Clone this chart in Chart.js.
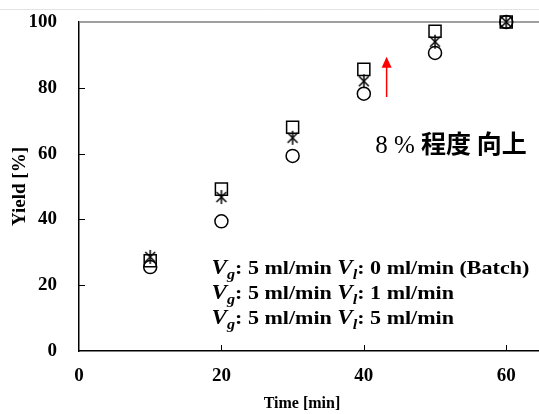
<!DOCTYPE html>
<html>
<head>
<meta charset="utf-8">
<script src="https://cdn.jsdelivr.net/npm/chart.js@4.4.0/dist/chart.umd.min.js"></script>
<style>
  html, body { margin: 0; padding: 0; background: #fff; }
</style>
</head>
<body>
<canvas id="grafico" width="539" height="414"></canvas>
<script>
// dados
const tempos = [10, 20, 30, 40, 50, 60];
const rendBatch = [25.5, 39.4, 59.3, 78.2, 90.6, 100];
const rend1ml = [28.6, 46.8, 64.8, 82.0, 94.0, 100];
const rend5ml = [27.4, 49.2, 68.0, 85.6, 97.2, 100];
const ticksX = [0, 20, 40, 60];
const ticksY = [0, 20, 40, 60, 80, 100];

// seta vermelha e textos (em unidades do grafico)
const seta = [[43.2, 77.2], [43.2, 89.4]];
const textoMelhora = ["8 % ", "程度 向上"];
const posMelhora = [41.6, 60.2];
const posLegenda = [18.6, 23.3];
const legenda = [
  [["V", "i"], ["g", "s"], [": 5 ml/min ", ""], ["V", "i"], ["l", "s"], [": 0 ml/min (Batch)", ""]],
  [["V", "i"], ["g", "s"], [": 5 ml/min ", ""], ["V", "i"], ["l", "s"], [": 1 ml/min", ""]],
  [["V", "i"], ["g", "s"], [": 5 ml/min ", ""], ["V", "i"], ["l", "s"], [": 5 ml/min", ""]]
];

const serif = '"Liberation Serif", "Times New Roman", serif';

function criaEstrela(r) {
  const c = document.createElement("canvas");
  c.width = c.height = r * 2 + 4;
  const ctx = c.getContext("2d");
  const m = r + 2;
  ctx.strokeStyle = "#000";
  ctx.lineWidth = 1.5;
  [90, 45, 135].forEach((ang) => {
    const a = ang * Math.PI / 180;
    ctx.beginPath();
    ctx.moveTo(m - Math.cos(a) * r, m - Math.sin(a) * r);
    ctx.lineTo(m + Math.cos(a) * r, m + Math.sin(a) * r);
    ctx.stroke();
  });
  return c;
}

function pontos(valores) {
  return tempos.map((t, i) => ({ x: t, y: valores[i] }));
}

const extras = {
  id: "extras",
  beforeDraw(chart) {
    const ctx = chart.ctx;
    ctx.save();
    ctx.fillStyle = "#fff";
    ctx.fillRect(0, 0, chart.width, chart.height);
    ctx.strokeStyle = "#e3e3e3";
    ctx.lineWidth = 1;
    ctx.beginPath();
    ctx.moveTo(0, 9.5);
    ctx.lineTo(chart.width, 9.5);
    ctx.stroke();
    ctx.restore();
  },
  beforeDatasetsDraw(chart) {
    const ctx = chart.ctx;
    const a = chart.chartArea;
    const sx = chart.scales.x, sy = chart.scales.y;
    ctx.save();
    // linha superior da moldura
    ctx.strokeStyle = "#808080";
    ctx.lineWidth = 1.5;
    ctx.beginPath();
    ctx.moveTo(a.left, a.top);
    ctx.lineTo(a.right, a.top);
    ctx.stroke();
    // marcas para dentro
    ctx.strokeStyle = "#000";
    ctx.lineWidth = 1;
    ticksX.slice(1).forEach((v) => {
      const x = Math.round(sx.getPixelForValue(v)) + 0.5;
      ctx.beginPath();
      ctx.moveTo(x, a.bottom);
      ctx.lineTo(x, a.bottom - 6);
      ctx.stroke();
    });
    ticksY.slice(1, -1).forEach((v) => {
      const y = Math.round(sy.getPixelForValue(v)) + 0.5;
      ctx.beginPath();
      ctx.moveTo(a.left, y);
      ctx.lineTo(a.left + 6, y);
      ctx.stroke();
    });
    // titulos dos eixos
    ctx.fillStyle = "#000";
    ctx.font = "bold 16px " + serif;
    ctx.textAlign = "center";
    ctx.textBaseline = "middle";
    ctx.fillText("Time [min]", 302, 404);
    ctx.font = "bold 19px " + serif;
    ctx.translate(20, (a.top + a.bottom) / 2);
    ctx.rotate(-Math.PI / 2);
    ctx.fillText("Yield [%]", 0, 0);
    ctx.restore();
  },
  afterDraw(chart) {
    const ctx = chart.ctx;
    const sx = chart.scales.x, sy = chart.scales.y;
    ctx.save();
    // seta
    const x0 = sx.getPixelForValue(seta[0][0]);
    const y0 = sy.getPixelForValue(seta[0][1]);
    const y1 = sy.getPixelForValue(seta[1][1]);
    ctx.strokeStyle = "#ff0000";
    ctx.fillStyle = "#ff0000";
    ctx.lineWidth = 1.5;
    ctx.beginPath();
    ctx.moveTo(x0, y0);
    ctx.lineTo(x0, y1 + 10);
    ctx.stroke();
    ctx.beginPath();
    ctx.moveTo(x0, y1);
    ctx.lineTo(x0 - 5, y1 + 11);
    ctx.lineTo(x0 + 5, y1 + 11);
    ctx.closePath();
    ctx.fill();
    // texto 8 % 程度 向上
    let x = sx.getPixelForValue(posMelhora[0]);
    const yb = sy.getPixelForValue(posMelhora[1]);
    ctx.fillStyle = "#000";
    ctx.textBaseline = "alphabetic";
    ctx.textAlign = "left";
    ctx.font = "25px " + serif;
    ctx.fillText(textoMelhora[0], x, yb);
    x += ctx.measureText(textoMelhora[0]).width;
    ctx.font = 'bold 25px "Noto Sans CJK JP"';
    ctx.fillText(textoMelhora[1], x, yb);
    // legenda (texto um pouco esticado na horizontal, como na figura)
    const lx = sx.getPixelForValue(posLegenda[0]);
    let ly = sy.getPixelForValue(posLegenda[1]);
    const esticar = 1.16;
    legenda.forEach((linha) => {
      let cx = 0;
      ctx.save();
      ctx.translate(lx, ly);
      ctx.scale(esticar, 1);
      linha.forEach(([t, tipo]) => {
        let dy = 0;
        if (tipo === "i") ctx.font = "italic bold 20px " + serif;
        else if (tipo === "s") { ctx.font = "italic bold 14px " + serif; dy = 5; }
        else ctx.font = "bold 19px " + serif;
        ctx.fillText(t, cx, dy);
        cx += ctx.measureText(t).width;
      });
      ctx.restore();
      ly += 25;
    });
    ctx.restore();
  }
};

const grafico = document.getElementById("grafico");

const graficoRendimento = new Chart(grafico, {
  type: "scatter",
  data: {
    datasets: [
      { label: "Batch", data: pontos(rendBatch), pointStyle: "circle", pointRadius: 6.5,
        borderColor: "#000", backgroundColor: "rgba(0,0,0,0)", borderWidth: 1.5, clip: false },
      { label: "1 ml/min", data: pontos(rend1ml), pointStyle: criaEstrela(7), pointRadius: 7,
        borderColor: "#000", backgroundColor: "rgba(0,0,0,0)", borderWidth: 1.5, clip: false },
      { label: "5 ml/min", data: pontos(rend5ml), pointStyle: "rect", pointRadius: 8.5,
        borderColor: "#000", backgroundColor: "rgba(0,0,0,0)", borderWidth: 1.5, clip: false }
    ]
  },
  options: {
    responsive: false,
    animation: false,
    devicePixelRatio: 1,
    layout: { autoPadding: false, padding: { top: 22, left: 0, right: 0, bottom: 0 } },
    plugins: { legend: { display: false }, tooltip: { enabled: false } },
    scales: {
      x: {
        type: "linear", min: 0, max: 64.6,
        afterBuildTicks: (s) => { s.ticks = ticksX.map((v) => ({ value: v })); },
        afterFit: (s) => { s.height = 63; s.paddingLeft = 0; s.paddingRight = 0; },
        grid: { drawOnChartArea: false, drawTicks: false },
        border: { color: "#000", width: 1.5 },
        ticks: { padding: 14, color: "#000", font: { family: serif, weight: "bold", size: 19 } }
      },
      y: {
        min: 0, max: 100,
        afterBuildTicks: (s) => { s.ticks = ticksY.map((v) => ({ value: v })); },
        afterFit: (s) => { s.width = 79; s.paddingTop = 0; s.paddingBottom = 0; },
        grid: { drawOnChartArea: false, drawTicks: false },
        border: { color: "#000", width: 1.5 },
        ticks: { padding: 22, color: "#000", font: { family: serif, weight: "bold", size: 19 } }
      }
    }
  },
  plugins: [extras]
});
</script>
</body>
</html>
